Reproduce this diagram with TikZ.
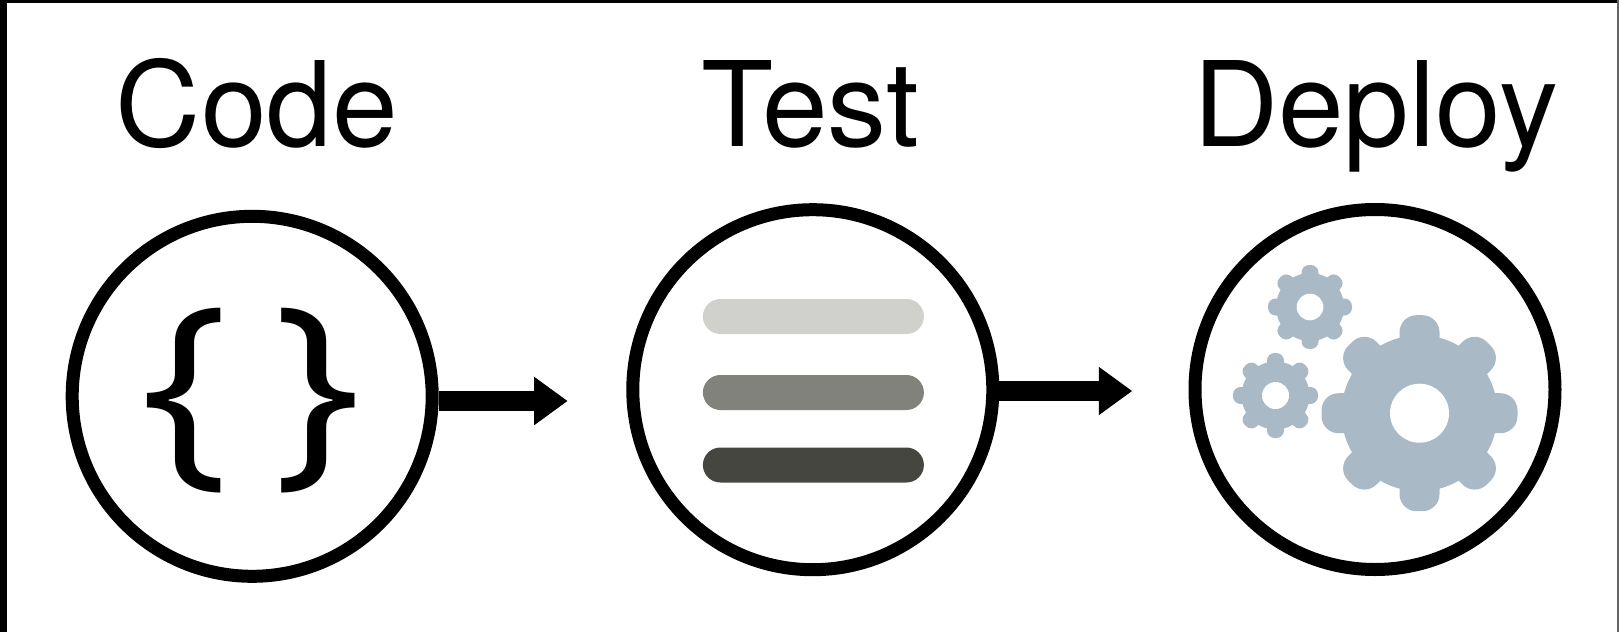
\documentclass[tikz,border=0pt]{standalone}
\usepackage{fontspec}
\setmainfont{TeX Gyre Heros}
\newfontfamily\bracefont{Open Sans}
\usetikzlibrary{arrows.meta}

\definecolor{barlight}{HTML}{D0D1CC}
\definecolor{barmid}{HTML}{80827B}
\definecolor{bardark}{HTML}{454640}
\definecolor{gearblue}{HTML}{A9BAC6}

\tikzset{
  stage/.style={draw=black, line width=6.5pt, circle, minimum size=180pt, inner sep=0pt},
  title/.style={anchor=base, inner sep=0pt, font=\fontsize{59}{59}\selectfont},
  brace/.style={inner sep=0pt, font=\bracefont\fontsize{106}{106}\selectfont},
  bar/.style={rounded corners=8.75pt, minimum width=110.5pt, minimum height=17.5pt, inner sep=0pt},
  flow/.style={line width=10pt, -{Triangle[length=16.75pt, width=23pt]}},
}

% center, body radius, tooth reach, tooth width, hole radius, tooth rounding
\newcommand{\cogwheel}[6]{
  \fill[gearblue] #1 circle (#2);
  \foreach \a in {0,45,...,315}
    \fill[gearblue, shift={#1}, rotate=\a, rounded corners=#6] (-#4/2,0) rectangle (#4/2,#3);
  \fill[white] #1 circle (#5);
}

\begin{document}
\begin{tikzpicture}[x=0.5pt, y=-0.5pt]
\useasboundingbox (0,0) rectangle (1619,632);
\fill[black] (0,0) rectangle (7,632);
\fill[black] (0,0) rectangle (1619,3);
\fill[black!60] (1617,0) rectangle (1619,632);

\node[title] (codetitle) at (257,146.7) {Code};
\node[title] (testtitle) at (810,146.7) {Test};
\node[title] (deploytitle) at (1375.5,146.7) {Deploy};

\node[stage] (code) at (252.2,396.3) {};
\node[stage] (test) at (812.8,389.7) {};
\node[stage] (deploy) at (1375,389.5) {};

\node[brace] (leftbrace) at (184.5,401) {\scalebox{1.1}[1]{\{}};
\node[brace] (rightbrace) at (317.7,401) {\scalebox{1.1}[1]{\}}};

\node[bar, fill=barlight] (bartop) at (813.4,316.5) {};
\node[bar, fill=barmid] (barmiddle) at (813.4,392.5) {};
\node[bar, fill=bardark] (barbottom) at (813.4,465) {};

\cogwheel{(1419.5,413.2)}{78}{98}{40}{29.5}{8.5pt}
\cogwheel{(1310,307)}{34}{42}{17}{13.3}{3.8pt}
\cogwheel{(1275.5,395.5)}{34}{42.5}{17}{13.5}{3.8pt}

\coordinate (codetip) at (567.7,401);
\coordinate (testtip) at (1132.3,391);
\draw[flow] (code.east |- codetip) -- (codetip);
\draw[flow] (test.east |- testtip) -- (testtip);
\end{tikzpicture}
\end{document}
